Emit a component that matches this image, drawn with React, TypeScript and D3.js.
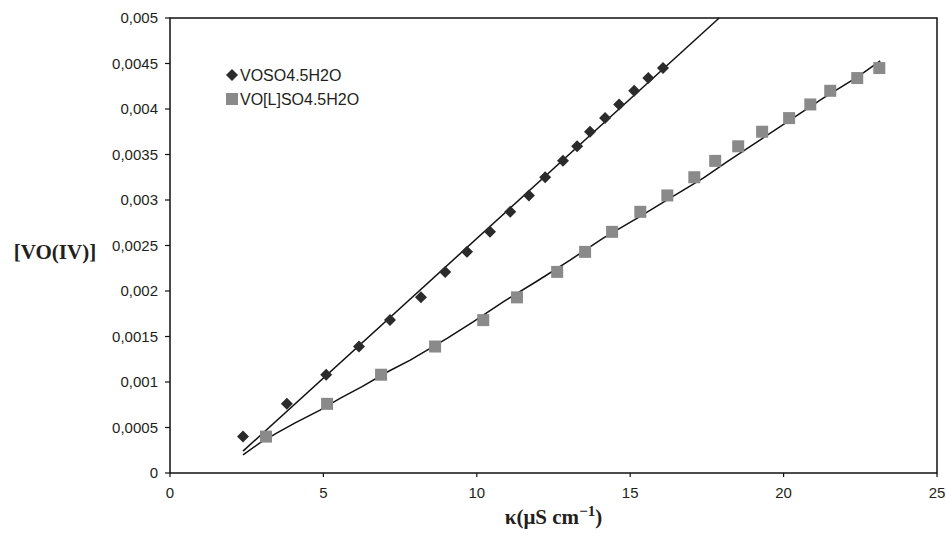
import React from "react";
import * as d3 from "d3";

// conductivity (x) for each series, shared [VO(IV)] concentrations (y)
const kappaVOSO4 = [2.38, 3.81, 5.09, 6.16, 7.17, 8.18, 8.97, 9.68, 10.43, 11.09, 11.7, 12.23, 12.81, 13.27, 13.69, 14.18, 14.64, 15.13, 15.59, 16.07];
const kappaVOL = [3.13, 5.12, 6.88, 8.64, 10.21, 11.31, 12.62, 13.53, 14.41, 15.33, 16.21, 17.09, 17.77, 18.52, 19.3, 20.18, 20.87, 21.52, 22.4, 23.12];
const concentration = [0.0004, 0.00076, 0.00108, 0.00139, 0.00168, 0.00193, 0.00221, 0.00243, 0.00265, 0.00287, 0.00305, 0.00325, 0.00343, 0.00359, 0.00375, 0.0039, 0.00405, 0.0042, 0.00434, 0.00445];

// trend lines
const fit1X = [2.38, 17.9];
const fit1Y = [0.00024, 0.005];
const fit2X = [2.38, 2.93, 3.49, 4.08, 4.89, 5.54, 6.26, 7.08, 7.83, 9.03, 9.88, 10.86, 11.97, 13.04, 14.12, 15.23, 16.3, 17.38, 18.2, 19.14, 20.22, 21.29, 22.4, 23.15];
const fit2Y = [0.0002, 0.00033, 0.00044, 0.00055, 0.00069, 0.00082, 0.00095, 0.00111, 0.00124, 0.00148, 0.00166, 0.00188, 0.00211, 0.00234, 0.00258, 0.0028, 0.00302, 0.00324, 0.00343, 0.00364, 0.00388, 0.00412, 0.00435, 0.00453];

const xTicks = [0, 5, 10, 15, 20, 25];
const yTicks = [0, 0.0005, 0.001, 0.0015, 0.002, 0.0025, 0.003, 0.0035, 0.004, 0.0045, 0.005];
const seriesNames = ["VOSO4.5H2O", "VO[L]SO4.5H2O"];

const W = 946;
const H = 536;
const left = 170, right = 937, top = 18, bottom = 473;
const sans = "'Liberation Sans', Arial, sans-serif";
const serif = "'Liberation Serif', 'Times New Roman', serif";
const textColor = "#231f20";
const diamondColor = "#2b2b2b";
const squareColor = "#8a8a8a";

const diamond = (s: number) => `M0,${-s}L${s},0L0,${s}L${-s},0Z`;

function App() {
  const x = d3.scaleLinear().domain([0, 25]).range([left, right]);
  const y = d3.scaleLinear().domain([0, 0.005]).range([bottom, top]);
  const line = d3.line<[number, number]>().x((d) => x(d[0])).y((d) => y(d[1]));
  const fit1 = fit1X.map((v, i) => [v, fit1Y[i]] as [number, number]);
  const fit2 = fit2X.map((v, i) => [v, fit2Y[i]] as [number, number]);
  const fmt = (v: number) => String(v).replace(".", ",");

  return (
    <div style={{ position: "absolute", left: 0, top: 0 }}>
      <svg width={W} height={H} style={{ display: "block", background: "#fff" }}>
        {/* frame */}
        <rect x={left} y={top} width={right - left} height={bottom - top} fill="none" stroke="#111" strokeWidth={1.5} />

        {yTicks.map((t) => (
          <g key={"y" + t}>
            <line x1={left - 5} x2={left} y1={y(t)} y2={y(t)} stroke="#111" strokeWidth={1.2} />
            <text x={left - 12} y={y(t) + 5} textAnchor="end" fontFamily={sans} fontSize={15} fill={textColor}>
              {fmt(t)}
            </text>
          </g>
        ))}
        {xTicks.map((t) => (
          <g key={"x" + t}>
            <line x1={x(t)} x2={x(t)} y1={bottom} y2={bottom + 4} stroke="#111" strokeWidth={1.2} />
            <text x={x(t)} y={bottom + 25} textAnchor="middle" fontFamily={sans} fontSize={15} fill={textColor}>
              {t}
            </text>
          </g>
        ))}

        {/* trend lines */}
        <path d={line(fit1) || ""} fill="none" stroke="#111" strokeWidth={1.5} />
        <path d={line(fit2) || ""} fill="none" stroke="#111" strokeWidth={1.5} />

        {kappaVOSO4.map((k, i) => (
          <path key={"d" + i} d={diamond(6)} transform={`translate(${x(k)},${y(concentration[i])})`} fill={diamondColor} />
        ))}
        {kappaVOL.map((k, i) => (
          <rect key={"s" + i} x={x(k) - 6} y={y(concentration[i]) - 6} width={12} height={12} fill={squareColor} />
        ))}

        {/* legend */}
        <path d={diamond(6)} transform="translate(232,75)" fill={diamondColor} />
        <text x={240} y={80.5} fontFamily={sans} fontSize={16} fill={textColor}>{seriesNames[0]}</text>
        <rect x={226} y={93} width={12} height={12} fill={squareColor} />
        <text x={240} y={105} fontFamily={sans} fontSize={16} fill={textColor}>{seriesNames[1]}</text>

        {/* axis titles */}
        <text x={55} y={259} textAnchor="middle" fontFamily={serif} fontWeight="bold" fontSize={21} fill={textColor}>
          [VO(IV)]
        </text>
        <text x={(left + right) / 2} y={524} textAnchor="middle" fontFamily={serif} fontWeight="bold" fontSize={21} fill={textColor}>
          κ(μS cm<tspan dy={-8} fontSize={15}>−1</tspan><tspan dy={8}>)</tspan>
        </text>
      </svg>
    </div>
  );
}

export default App;
